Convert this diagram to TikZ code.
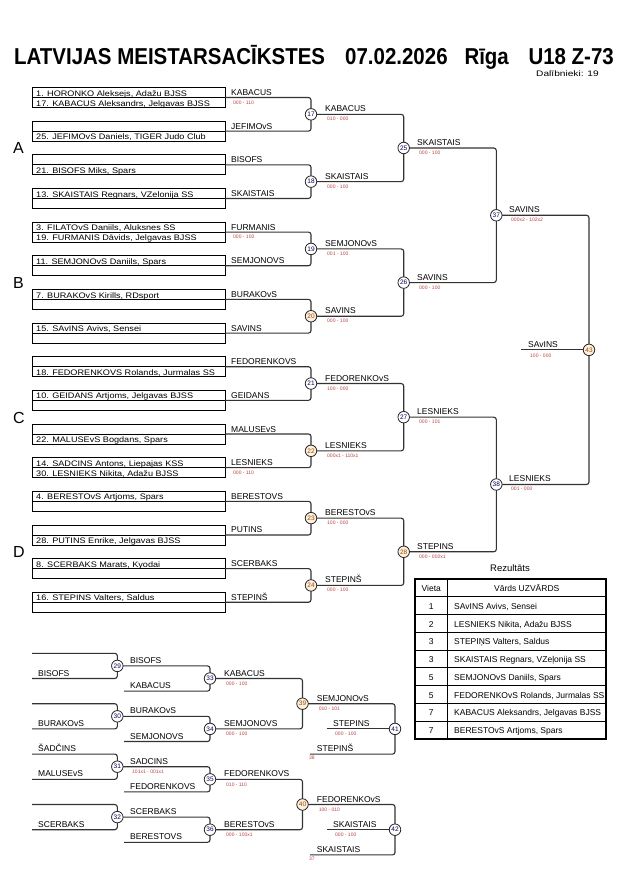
\documentclass[tikz,border=0pt]{standalone}
\usepackage{fontspec}
\setmainfont{Liberation Sans}
\newfontfamily\entryfamily[FakeStretch=1.14]{Liberation Sans}
\newfontfamily\titlefamily[FakeStretch=0.89]{Liberation Sans}
\newfontfamily\smallwide[FakeStretch=1.27]{Liberation Sans}
\tikzset{
  ebox/.style={draw=black, line width=0.8pt},
  brl/.style={draw=black!80, line width=1.1pt, rounded corners=2.5pt},
  circ/.style={circle, draw=black!85, line width=0.8pt, fill=white, inner sep=0pt, minimum size=11.5pt, font=\fontsize{6.5}{6.5}\selectfont, text=blue!35!black},
  circo/.style={circ, fill=orange!12, text=orange!60!black},
  ent/.style={anchor=base west, inner sep=0pt, font=\entryfamily\fontsize{8}{8}\selectfont},
  lbl/.style={anchor=base west, inner sep=0pt, font=\fontsize{8.5}{8.5}\selectfont},
  scr/.style={anchor=base west, inner sep=0pt, font=\fontsize{5}{5}\selectfont, text=red!45!gray},
  grp/.style={anchor=base west, inner sep=0pt, font=\fontsize{16}{16}\selectfont},
  ttl/.style={anchor=base west, inner sep=0pt, font=\titlefamily\bfseries\fontsize{23}{23}\selectfont},
  tabtxt/.style={anchor=base west, inner sep=0pt, font=\fontsize{8.5}{8.5}\selectfont},
  tabnum/.style={anchor=base, inner sep=0pt, font=\fontsize{8.5}{8.5}\selectfont},
}
\begin{document}
\begin{tikzpicture}[x=1pt,y=-1pt]
\useasboundingbox (0,0) rectangle (630,891);
\fill[white] (0,0) rectangle (630,891);
% title
\node[ttl] (t1) at (14,64) {LATVIJAS MEISTARSACĪKSTES};
\node[ttl] (t2) at (345,64) {07.02.2026};
\node[ttl] (t3) at (464.3,64) {Rīga};
\node[ttl] (t4) at (528.3,64) {U18 Z-73};
\node[anchor=base west, inner sep=0pt, font=\smallwide\fontsize{8}{8}\selectfont] (dal) at (536,76) {Dalībnieki: 19};
% group letters
\node[grp] (gA) at (13,153.8) {A};
\node[grp] (gB) at (13,288.4) {B};
\node[grp] (gC) at (13,423) {C};
\node[grp] (gD) at (13,557.6) {D};
% entry boxes
\foreach \k/\up/\lo in {
 0/{1. HORONKO Aleksejs, Adažu BJSS}/{17. KABACUS Aleksandrs, Jelgavas BJSS},
 1/{}/{25. JEFIMOvS Daniels, TIGER Judo Club},
 2/{}/{21. BISOFS Miks, Spars},
 3/{13. SKAISTAIS Regnars, VZelonija SS}/{},
 4/{3. FILATOvS Daniils, Aluksnes SS}/{19. FURMANIS Dāvids, Jelgavas BJSS},
 5/{11. SEMJONOvS Daniils, Spars}/{},
 6/{7. BURAKOvS Kirills, RDsport}/{},
 7/{15. SAvINS Avivs, Sensei}/{},
 8/{}/{18. FEDORENKOVS Rolands, Jurmalas SS},
 9/{10. GEIDANS Artjoms, Jelgavas BJSS}/{},
 10/{}/{22. MALUSEvS Bogdans, Spars},
 11/{14. SADCINS Antons, Liepajas KSS}/{30. LESNIEKS Nikita, Adažu BJSS},
 12/{4. BERESTOvS Artjoms, Spars}/{},
 13/{}/{28. PUTINS Enrike, Jelgavas BJSS},
 14/{8. SCERBAKS Marats, Kyodai}/{},
 15/{16. STEPINS Valters, Saldus}/{}}{
  \pgfmathsetmacro\yt{87.5+33.65*\k}
  \draw[ebox] (32,\yt) rectangle (225,\yt+20);
  \draw[ebox] (32,\yt+10) -- (225,\yt+10);
  \node[ent] (eu\k) at (36,\yt+8.6) {\up};
  \node[ent] (el\k) at (36,\yt+18.6) {\lo};
  \coordinate (m\k) at (225,\yt+10);
}
% circle centres main bracket
\foreach \n/\x/\y in {17/311/114.33,18/311/181.63,19/311/248.93,20/311/316.23,21/311/383.53,22/311/450.83,23/311/518.13,24/311/585.43,
  25/403.7/147.98,26/403.7/282.58,27/403.7/417.18,28/403.7/551.78,37/496.3/215.28,38/496.3/484.48,43/589/349.88}
  {\coordinate (p\n) at (\x,\y);}
% lines main
\foreach \a/\b/\c in {0/1/17,2/3/18,4/5/19,6/7/20,8/9/21,10/11/22,12/13/23,14/15/24}
  {\draw[brl] (m\a) -| (p\c) |- (m\b);}
\foreach \a/\b/\c in {17/18/25,19/20/26,21/22/27,23/24/28,25/26/37,27/28/38,37/38/43}
  {\draw[brl] (p\a) -| (p\c) |- (p\b);}
\coordinate (fin) at (521,349.88);
\draw[brl] (fin) -- (p43);
% round 1 labels
\foreach \k/\n in {0/KABACUS,1/JEFIMOvS,2/BISOFS,3/SKAISTAIS,4/FURMANIS,5/SEMJONOVS,6/BURAKOvS,7/SAVINS,
  8/FEDORENKOVS,9/GEIDANS,10/MALUSEvS,11/LESNIEKS,12/BERESTOVS,13/PUTINS,14/SCERBAKS,15/STEPINŠ}
  {\node[lbl] (r1l\k) at (231,{97.5+33.65*\k-2}) {\n};}
\foreach \k/\s in {0/{000 - 110},4/{000 - 100},11/{000 - 110}}
  {\node[scr] (r1s\k) at (233,{97.5+33.65*\k+6.5}) {\s};}
% winners labels
\foreach \c/\x/\y/\n/\s in {
  17/325/114.33/KABACUS/{010 - 000},
  18/325/181.63/SKAISTAIS/{000 - 100},
  19/325/248.93/SEMJONOvS/{001 - 100},
  20/325/316.23/SAVINS/{000 - 100},
  21/325/383.53/FEDORENKOvS/{100 - 000},
  22/325/450.83/LESNIEKS/{000x1 - 110x1},
  23/325/518.13/BERESTOvS/{100 - 000},
  24/325/585.43/STEPINŠ/{000 - 100},
  25/417/147.98/SKAISTAIS/{000 - 100},
  26/417/282.58/SAVINS/{000 - 100},
  27/417/417.18/LESNIEKS/{000 - 101},
  28/417/551.78/STEPINS/{000 - 002x1},
  37/509/215.28/SAVINS/{000x2 - 102x2},
  38/509/484.48/LESNIEKS/{001 - 000}}{
  \node[lbl] (wl\c) at (\x,\y-2.5) {\n};
  \node[scr] (ws\c) at (\x+2,\y+6.5) {\s};
}
\node[lbl] (wl43) at (528,347.4) {SAvINS};
\node[scr] (ws43) at (530,357) {100 - 000};
% repechage
\foreach \i/\y in {0/653.3,1/678.5,2/703.7,3/728.9,4/754.1,5/779.3,6/804.5,7/829.7}
  {\coordinate (q\i) at (32,\y);}
\foreach \n/\x/\y in {29/117.3/665.9,30/117.3/716.3,31/117.3/766.7,32/117.3/817.1,
  33/210/678.5,34/210/728.9,35/210/779.3,36/210/829.7,39/302.5/703.7,40/302.5/804.5,41/395/728.9,42/395/829.7}
  {\coordinate (p\n) at (\x,\y);}
\coordinate (s33) at (124,691.1);
\coordinate (s34) at (124,741.5);
\coordinate (s35) at (124,791.9);
\coordinate (s36) at (124,842.3);
\coordinate (t41) at (326.7,728.9);
\coordinate (t42) at (326.7,829.7);
\coordinate (u41) at (310,754.1);
\coordinate (u42) at (310,854.9);
\foreach \a/\b/\c in {0/1/29,2/3/30,4/5/31,6/7/32}
  {\draw[brl] (q\a) -| (p\c) |- (q\b);}
\foreach \a/\c in {29/33,30/34,31/35,32/36}
  {\draw[brl] (p\a) -| (p\c) |- (s\c);}
\draw[brl] (p33) -| (p39) |- (p34);
\draw[brl] (p35) -| (p40) |- (p36);
\draw[brl] (p39) -| (p41) |- (u41);
\draw[brl] (p40) -| (p42) |- (u42);
\draw[brl] (t41) -- (p41);
\draw[brl] (t42) -- (p42);
% repechage labels
\foreach \id/\x/\y/\n in {a1/38/678.5/BISOFS,a3/38/728.9/BURAKOvS,a4/38/754.1/ŠADČINS,a5/38/779.3/MALUSEvS,a7/38/829.7/SCERBAKS,
  b1/130/665.9/BISOFS,b2/130/691.1/KABACUS,b3/130/716.3/BURAKOvS,b4/130/741.5/SEMJONOVS,b5/130/766.7/SADCINS,
  b6/130/791.9/FEDORENKOVS,b7/130/817.1/SCERBAKS,b8/130/842.3/BERESTOVS,
  c1/224/678.5/KABACUS,c2/224/728.9/SEMJONOVS,c3/224/779.3/FEDORENKOVS,c4/224/829.7/BERESTOvS,
  d1/316.7/703.7/SEMJONOvS,d2/316.7/754.1/STEPINŠ,d3/316.7/804.5/FEDORENKOvS,d4/316.7/854.9/SKAISTAIS,
  e1/333/728.9/STEPINS,e2/333/829.7/SKAISTAIS}
  {\node[lbl] (rl\id) at (\x,\y-2.4) {\n};}
\foreach \id/\x/\y/\s in {b5/132/766.7/{101x1 - 001x1},c1/226/678.5/{000 - 100},c2/226/728.9/{000 - 100},
  c3/226/779.3/{010 - 110},c4/226/829.7/{000 - 100x1},d1/318.7/703.7/{010 - 101},d3/318.7/804.5/{100 - 010},
  e1/335/728.9/{000 - 100},e2/335/829.7/{000 - 100}}
  {\node[scr] (rs\id) at (\x,\y+7) {\s};}
\node[scr] (rs38) at (309,759.5) {38};
\node[scr] (rs37) at (309,860.3) {37};
% circles on top
\foreach \n in {17,18,19,21,25,26,27,37,38,29,30,31,32,33,34,35,36,41,42}
  {\node[circ] (c\n) at (p\n) {\n};}
\foreach \n in {20,22,23,24,28,39,40,43}
  {\node[circo] (c\n) at (p\n) {\n};}
% results table
\node[anchor=base, inner sep=0pt, font=\fontsize{9.5}{9.5}\selectfont] (rez) at (510,571) {Rezultāts};
\foreach \i in {1,...,8}{\draw[line width=0.8pt] (415,579+17.75*\i) -- (606,579+17.75*\i);}
\draw[line width=0.8pt] (447.5,579) -- (447.5,738.75);
\draw[line width=1.8pt] (415,579) rectangle (606,738.75);
\node[tabnum] (hv) at (431.25,591.5) {Vieta};
\node[tabnum] (hn) at (526.75,591.5) {Vārds UZVĀRDS};
\foreach \i/\v/\n in {1/1/{SAvINS Avivs, Sensei},2/2/{LESNIEKS Nikita, Adažu BJSS},3/3/{STEPIŅS Valters, Saldus},
  4/3/{SKAISTAIS Regnars, VZeļonija SS},5/5/{SEMJONOvS Daniils, Spars},6/5/{FEDORENKOvS Rolands, Jurmalas SS},
  7/7/{KABACUS Aleksandrs, Jelgavas BJSS},8/7/{BERESTOvS Artjoms, Spars}}{
  \node[tabnum] (tv\i) at (431.25,591.5+17.75*\i) {\v};
  \node[tabtxt] (tn\i) at (454,591.5+17.75*\i) {\n};
}
\end{tikzpicture}
\end{document}
